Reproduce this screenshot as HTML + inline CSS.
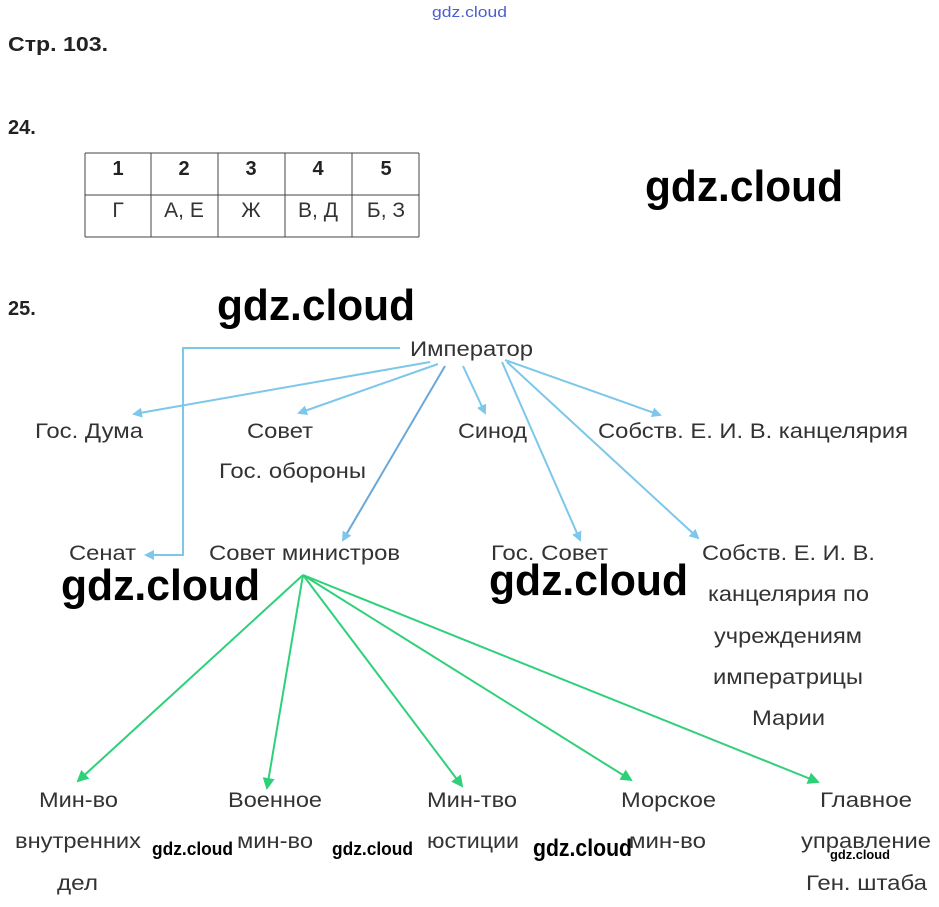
<!DOCTYPE html>
<html><head><meta charset="utf-8"><style>
body{margin:0;background:#fff;width:939px;height:907px;overflow:hidden}
svg{display:block}
.t{font-family:"Liberation Sans",sans-serif;font-size:21px;fill:#333}
.b{font-family:"Liberation Sans",sans-serif;font-weight:bold;fill:#222}
.g{font-family:"Liberation Sans",sans-serif;fill:#000;font-weight:bold}
</style></head><body>
<svg width="939" height="907" viewBox="0 0 939 907" xmlns="http://www.w3.org/2000/svg">
<defs>
<marker id="ab" markerWidth="10" markerHeight="10" refX="8" refY="5" orient="auto" markerUnits="userSpaceOnUse"><path d="M0,0 L10,5 L0,10 z" fill="#7cc7ea"/></marker>
<marker id="ag" markerWidth="12" markerHeight="12" refX="10" refY="6" orient="auto" markerUnits="userSpaceOnUse"><path d="M0,0 L12,6 L0,12 z" fill="#2fd07a"/></marker>
</defs>
<text x="432" y="17" font-family="Liberation Sans,sans-serif" font-size="15" fill="#4a5fd0" textLength="75" lengthAdjust="spacingAndGlyphs">gdz.cloud</text>
<text x="8" y="51" class="b" font-size="20" textLength="100" lengthAdjust="spacingAndGlyphs">Стр. 103.</text>
<text x="8" y="134" class="b" font-size="20">24.</text>
<text x="8" y="315" class="b" font-size="20">25.</text>
<g stroke="#444" stroke-width="1" fill="none">
<line x1="85" y1="153" x2="419" y2="153"/><line x1="85" y1="195" x2="419" y2="195"/><line x1="85" y1="237" x2="419" y2="237"/>
<line x1="85" y1="153" x2="85" y2="237"/><line x1="151" y1="153" x2="151" y2="237"/><line x1="218" y1="153" x2="218" y2="237"/><line x1="285" y1="153" x2="285" y2="237"/><line x1="352" y1="153" x2="352" y2="237"/><line x1="419" y1="153" x2="419" y2="237"/>
</g>
<g class="b" font-size="20" text-anchor="middle"><text x="118" y="175">1</text><text x="184" y="175">2</text><text x="251" y="175">3</text><text x="318" y="175">4</text><text x="386" y="175">5</text></g>
<g class="t" font-size="20" text-anchor="middle"><text x="118" y="217">Г</text><text x="184" y="217">А, Е</text><text x="251" y="217">Ж</text><text x="318" y="217">В, Д</text><text x="386" y="217">Б, З</text></g>

<g stroke="#7cc7ea" stroke-width="2" fill="none">
<polyline points="400,348 183,348 183,555 146,555" marker-end="url(#ab)"/>
<line x1="430" y1="362" x2="134" y2="414" marker-end="url(#ab)"/>
<line x1="438" y1="364" x2="299" y2="413" marker-end="url(#ab)"/>
<line x1="463" y1="366" x2="485" y2="413" marker-end="url(#ab)"/>
<line x1="445" y1="366" x2="343" y2="540" stroke="#6aa8d8" marker-end="url(#ab)"/>
<line x1="505" y1="360" x2="660" y2="415" marker-end="url(#ab)"/>
<line x1="502" y1="362" x2="580" y2="540" marker-end="url(#ab)"/>
<line x1="507" y1="362" x2="698" y2="538" marker-end="url(#ab)"/>
</g>
<g stroke="#2fd07a" stroke-width="2" fill="none">
<line x1="303" y1="575" x2="78" y2="781" marker-end="url(#ag)"/>
<line x1="303" y1="575" x2="267" y2="788" marker-end="url(#ag)"/>
<line x1="303" y1="575" x2="462" y2="786" marker-end="url(#ag)"/>
<line x1="303" y1="575" x2="631" y2="780" marker-end="url(#ag)"/>
<line x1="303" y1="575" x2="818" y2="782" marker-end="url(#ag)"/>
</g>

<g class="t" lengthAdjust="spacingAndGlyphs">
<text x="410" y="356" textLength="123" lengthAdjust="spacingAndGlyphs">Император</text>
<text x="35" y="438" textLength="108" lengthAdjust="spacingAndGlyphs">Гос. Дума</text>
<text x="247" y="438" textLength="66" lengthAdjust="spacingAndGlyphs">Совет</text>
<text x="219" y="478" textLength="147" lengthAdjust="spacingAndGlyphs">Гос. обороны</text>
<text x="458" y="438" textLength="69" lengthAdjust="spacingAndGlyphs">Синод</text>
<text x="598" y="438" textLength="310" lengthAdjust="spacingAndGlyphs">Собств. Е. И. В. канцелярия</text>
<text x="69" y="560" textLength="67" lengthAdjust="spacingAndGlyphs">Сенат</text>
<text x="209" y="560" textLength="191" lengthAdjust="spacingAndGlyphs">Совет министров</text>
<text x="491" y="560" textLength="117" lengthAdjust="spacingAndGlyphs">Гос. Совет</text>
<text x="702" y="560" textLength="173" lengthAdjust="spacingAndGlyphs">Собств. Е. И. В.</text>
<text x="708" y="601" textLength="161" lengthAdjust="spacingAndGlyphs">канцелярия по</text>
<text x="714" y="643" textLength="148" lengthAdjust="spacingAndGlyphs">учреждениям</text>
<text x="713" y="684" textLength="150" lengthAdjust="spacingAndGlyphs">императрицы</text>
<text x="752" y="725" textLength="73" lengthAdjust="spacingAndGlyphs">Марии</text>
<text x="39" y="807" textLength="79" lengthAdjust="spacingAndGlyphs">Мин-во</text>
<text x="15" y="848" textLength="126" lengthAdjust="spacingAndGlyphs">внутренних</text>
<text x="57" y="890" textLength="41" lengthAdjust="spacingAndGlyphs">дел</text>
<text x="228" y="807" textLength="94" lengthAdjust="spacingAndGlyphs">Военное</text>
<text x="237" y="848" textLength="76" lengthAdjust="spacingAndGlyphs">мин-во</text>
<text x="427" y="807" textLength="90" lengthAdjust="spacingAndGlyphs">Мин-тво</text>
<text x="427" y="848" textLength="92" lengthAdjust="spacingAndGlyphs">юстиции</text>
<text x="621" y="807" textLength="95" lengthAdjust="spacingAndGlyphs">Морское</text>
<text x="629" y="848" textLength="77" lengthAdjust="spacingAndGlyphs">мин-во</text>
<text x="820" y="807" textLength="92" lengthAdjust="spacingAndGlyphs">Главное</text>
<text x="801" y="848" textLength="130" lengthAdjust="spacingAndGlyphs">управление</text>
<text x="806" y="890" textLength="121" lengthAdjust="spacingAndGlyphs">Ген. штаба</text>
</g>

<g class="g">
<text x="645" y="201" font-size="44" textLength="198" lengthAdjust="spacingAndGlyphs">gdz.cloud</text>
<text x="217" y="320" font-size="44" textLength="198" lengthAdjust="spacingAndGlyphs">gdz.cloud</text>
<text x="61" y="600" font-size="44" textLength="199" lengthAdjust="spacingAndGlyphs">gdz.cloud</text>
<text x="489" y="595" font-size="44" textLength="199" lengthAdjust="spacingAndGlyphs">gdz.cloud</text>
<text x="152" y="855" font-size="18" textLength="81" lengthAdjust="spacingAndGlyphs">gdz.cloud</text>
<text x="332" y="855" font-size="18" textLength="81" lengthAdjust="spacingAndGlyphs">gdz.cloud</text>
<text x="533" y="856" font-size="24" textLength="99" lengthAdjust="spacingAndGlyphs">gdz.cloud</text>
<text x="830" y="859" font-size="13" textLength="60" lengthAdjust="spacingAndGlyphs">gdz.cloud</text>
</g>
</svg>
</body></html>
